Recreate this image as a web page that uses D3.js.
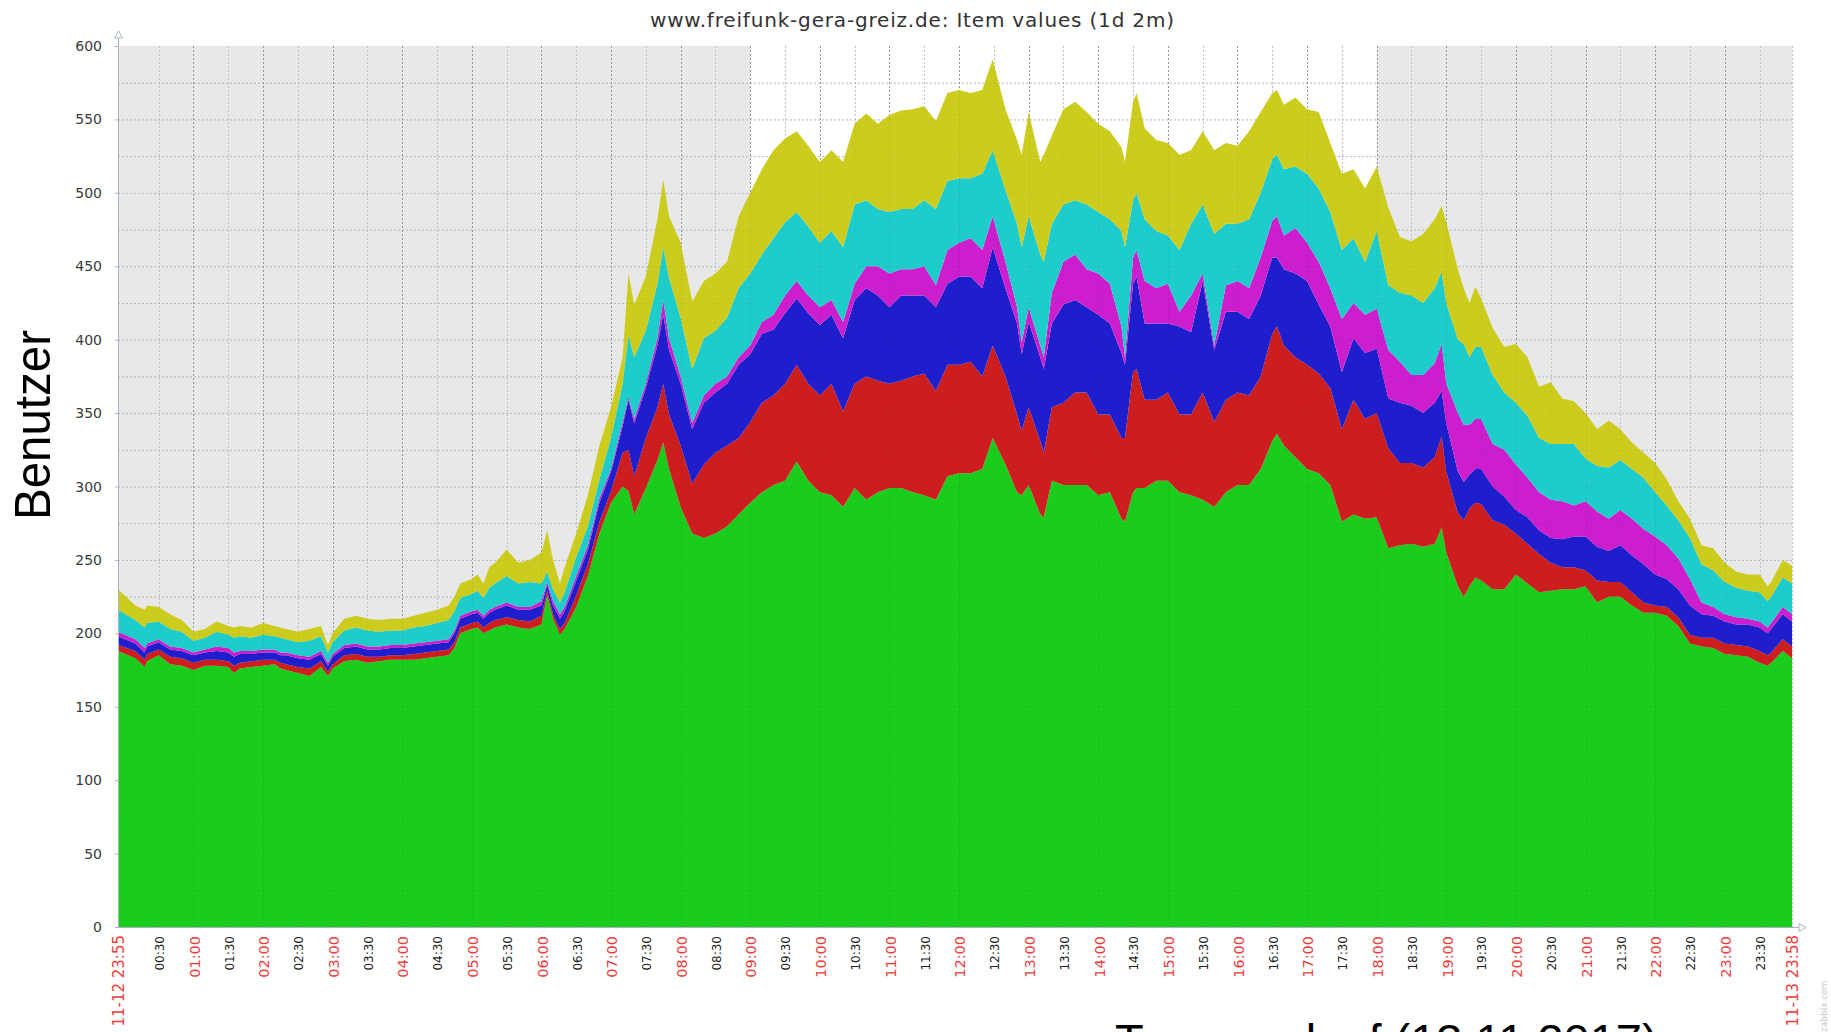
<!DOCTYPE html>
<html><head><meta charset="utf-8">
<script src="https://cdn.jsdelivr.net/npm/d3@7"></script>
<style>body{margin:0;background:#fff;overflow:hidden} svg{display:block}</style>
</head><body>
<svg id="chart" width="1831" height="1032"></svg>
<script>
// ---- data (first time stamp belongs to 2017-11-12, the rest to 2017-11-13) ----
const times = ["23:55","00:10","00:18","00:20","00:30","00:40","00:50","01:00","01:10","01:20","01:30","01:35","01:40","01:50","02:00","02:10","02:15","02:20","02:30","02:40","02:50","02:56","03:00","03:10","03:20","03:30","03:40","03:50","04:00","04:10","04:20","04:30","04:40","04:45","04:50","05:00","05:05","05:10","05:15","05:20","05:30","05:40","05:50","06:00","06:05","06:10","06:16","06:20","06:30","06:40","06:50","07:00","07:10","07:15","07:20","07:30","07:40","07:45","07:50","08:00","08:10","08:20","08:30","08:40","08:50","09:00","09:10","09:20","09:30","09:40","09:50","10:00","10:10","10:20","10:30","10:40","10:50","11:00","11:10","11:20","11:30","11:40","11:50","12:00","12:10","12:20","12:29","12:40","12:50","12:54","13:00","13:10","13:13","13:20","13:30","13:40","13:50","14:00","14:10","14:20","14:23","14:30","14:33","14:40","14:50","15:00","15:10","15:20","15:30","15:40","15:50","16:00","16:10","16:20","16:30","16:34","16:40","16:50","17:00","17:10","17:20","17:30","17:40","17:50","18:00","18:10","18:20","18:30","18:40","18:50","18:56","19:00","19:10","19:15","19:20","19:25","19:30","19:40","19:50","20:00","20:10","20:20","20:30","20:40","20:50","21:00","21:10","21:20","21:30","21:40","21:50","22:00","22:10","22:20","22:30","22:40","22:50","23:00","23:10","23:20","23:30","23:37","23:40","23:50","23:58"];

const seriesGreen = [188,183,177,181,185,179,178,175,178,178,177,173,176,177,178,179,176,175,173,171,177,171,176,181,182,180,181,182,182,182,183,184,185,190,200,203,204,200,202,204,206,204,203,206,226,210,199,203,218,239,268,289,300,297,281,299,318,330,312,286,268,265,268,273,281,289,296,301,304,317,304,296,294,286,299,291,296,299,299,296,294,291,307,309,309,312,333,315,296,294,301,281,279,304,301,301,301,294,296,278,276,296,299,299,304,304,296,294,291,286,296,301,301,312,331,336,328,320,312,309,301,276,281,278,279,258,260,261,259,261,272,255,232,225,232,238,236,230,230,240,234,228,229,230,230,232,221,225,225,219,214,214,212,205,193,191,190,186,185,184,180,178,180,188,183];
const seriesRed = [4,5,5,5,4,5,5,5,4,4,4,5,4,4,4,3,4,4,4,5,4,3,3,4,4,4,3,3,3,4,4,4,4,4,4,4,4,4,5,5,5,5,5,6,3,3,4,4,8,8,8,8,23,28,26,34,36,40,37,42,34,50,55,55,52,55,61,61,66,66,66,66,76,65,71,84,76,71,73,79,83,74,76,74,76,63,63,60,53,44,53,50,44,50,56,63,63,55,53,55,57,82,81,60,55,60,53,55,73,58,63,63,61,63,73,73,68,68,71,68,66,63,78,68,71,68,56,55,54,59,62,55,50,52,53,51,52,47,44,28,27,26,19,15,15,11,15,10,10,9,7,5,6,6,6,6,7,7,7,7,8,7,7,8,8];
const seriesBlue = [6,5,5,5,5,5,5,5,5,6,6,6,6,5,5,5,5,6,6,6,5,4,5,5,5,5,5,5,5,5,5,5,5,6,6,6,6,6,7,7,8,7,8,7,4,6,7,8,10,10,13,13,18,34,36,34,42,47,44,42,37,42,41,42,50,46,47,45,48,45,48,48,47,50,57,60,58,52,58,55,53,57,55,60,58,60,67,60,62,52,58,57,57,57,67,63,58,68,62,58,50,60,63,52,52,47,60,56,76,49,60,55,52,55,52,47,52,57,57,47,42,39,42,45,44,34,41,39,37,37,31,33,28,26,23,23,24,23,19,16,18,16,17,19,21,23,23,21,25,25,26,21,19,19,20,16,15,15,14,15,16,15,16,17,17];
const seriesMagenta = [3,3,3,2,2,2,2,2,2,3,3,3,2,2,2,2,2,2,2,2,2,2,2,2,2,2,2,2,2,2,2,2,2,2,2,2,2,2,2,2,2,2,2,3,2,3,3,3,3,3,3,2,3,2,3,3,5,10,8,5,4,5,6,5,5,6,8,10,12,12,12,12,10,11,11,15,20,23,18,18,20,15,23,23,26,26,21,18,11,8,10,8,8,21,29,31,26,28,27,18,5,18,18,29,24,27,10,25,5,3,18,21,21,26,25,28,23,31,26,29,26,36,24,26,27,33,28,21,26,27,32,27,40,39,34,34,34,29,32,31,27,26,26,26,21,24,24,22,24,25,24,26,23,21,18,8,6,5,5,4,4,4,4,5,5];
const seriesCyan = [15,13,14,14,12,12,11,8,8,10,9,10,10,9,10,9,10,9,9,11,10,7,8,10,11,11,10,10,10,11,11,12,13,13,12,12,13,12,15,16,18,16,17,12,7,8,8,10,13,13,13,21,26,42,42,36,37,36,41,40,37,39,36,40,47,49,46,52,50,47,47,44,47,51,54,45,39,42,41,41,45,52,47,44,41,52,45,49,57,65,62,62,65,47,39,37,44,42,44,65,75,39,39,42,39,33,42,49,47,76,42,39,47,44,42,42,45,42,47,50,52,47,44,36,53,44,47,54,49,51,49,55,50,55,46,49,49,47,39,42,42,37,38,39,42,29,31,35,34,34,35,30,27,26,28,26,25,22,20,19,20,18,18,20,21];
const seriesYellow = [14,10,12,12,10,10,8,6,6,7,6,7,7,7,8,7,7,7,7,8,7,5,6,8,8,8,8,8,8,8,9,9,10,10,10,10,11,10,14,14,18,14,15,21,28,20,13,17,16,21,23,21,18,42,36,37,44,46,42,51,46,39,39,38,49,55,58,60,57,55,55,55,55,58,55,59,58,66,67,68,64,60,60,60,58,57,62,55,57,63,71,63,73,60,65,67,63,60,60,57,58,67,68,62,62,63,65,50,50,57,55,53,60,55,45,44,44,47,44,52,47,52,47,50,44,53,38,37,47,47,45,55,48,38,37,41,33,32,31,40,40,35,42,31,29,31,25,32,21,18,17,20,18,13,13,13,15,13,11,11,12,10,10,12,12];

const seriesKeys = ["green","red","blue","magenta","cyan","yellow"];
const seriesColors = ["#1acc1c","#cc1e1e","#1e1ecc","#cc1ecc","#1ecccc","#cccc1e"];
const yTickValues = [0,50,100,150,200,250,300,350,400,450,500,550,600];
const titleText = "www.freifunk-gera-greiz.de: Item values (1d 2m)";
const yTitle = "Benutzer";
const xTitle = "Tagesverlauf (13.11.2017)";
const startLabel = "11-12 23:55";
const endLabel = "11-13 23:58";

// ---- build table ----
const parseT = (s, i) => {
  const [h, m] = s.split(":").map(Number);
  return new Date(2017, 10, i === 0 ? 12 : 13, h, m);
};
const table = times.map((t, i) => ({
  date: parseT(t, i),
  green: seriesGreen[i], red: seriesRed[i], blue: seriesBlue[i],
  magenta: seriesMagenta[i], cyan: seriesCyan[i], yellow: seriesYellow[i]
}));

const svg = d3.select("#chart");
const L = 118, R = 1792, T = 46, B = 927;
const t0 = new Date(2017, 10, 12, 23, 55), t1 = new Date(2017, 10, 13, 23, 58);
const x = d3.scaleTime().domain([t0, t1]).range([L, R]);
const y = d3.scaleLinear().domain([0, 600]).range([B, T]);

// backgrounds (work hours white)
const w0 = new Date(2017, 10, 13, 9, 0), w1 = new Date(2017, 10, 13, 18, 0);
svg.append("rect").attr("x", L).attr("y", T).attr("width", x(w0) - L).attr("height", B - T).attr("fill", "#e8e8e8");
svg.append("rect").attr("x", x(w1)).attr("y", T).attr("width", R - x(w1)).attr("height", B - T).attr("fill", "#e8e8e8");

// grid
const halfHours = d3.timeMinute.every(30).range(new Date(2017,10,13,0,30), t1);
const gridG = svg.append("g");
function drawGrid(g, under) {
  yTickValues.concat(d3.range(25, 600, 50)).filter(v => v > 0 && v < 600).forEach(v => {
    g.append("line").attr("x1", L).attr("x2", R).attr("y1", y(v) + 0.5).attr("y2", y(v) + 0.5)
      .attr("stroke", under ? "#b9c3cc" : "#000").attr("stroke-opacity", under ? 1 : 0.05)
      .attr("stroke-dasharray", "2,2");
  });
  halfHours.concat([t1]).forEach(d => {
    const hour = d.getMinutes() === 0;
    g.append("line").attr("x1", Math.round(x(d)) + 0.5).attr("x2", Math.round(x(d)) + 0.5).attr("y1", T).attr("y2", B)
      .attr("stroke", under ? (hour ? "#9aa6b2" : "#c0c9d1") : "#000")
      .attr("stroke-opacity", under ? 1 : (hour ? 0.08 : 0.04))
      .attr("stroke-dasharray", "2,2");
  });
}
drawGrid(gridG, true);

// stacked areas
const stack = d3.stack().keys(seriesKeys);
const layers = stack(table);
const area = d3.area().x(d => x(d.data.date)).y0(d => y(d[0])).y1(d => y(d[1])).curve(d3.curveLinear);
svg.append("g").selectAll("path").data(layers).join("path")
  .attr("d", area).attr("fill", (d, i) => seriesColors[i]);

drawGrid(svg.append("g"), false);

// axes
const axisCol = "#a9b4be";
svg.append("line").attr("x1", L + 0.5).attr("x2", L + 0.5).attr("y1", B).attr("y2", 36).attr("stroke", axisCol);
svg.append("path").attr("d", `M${L + 0.5},31 L${L + 4.5},38 L${L - 3.5},38 Z`).attr("fill", "#fff").attr("stroke", axisCol);
svg.append("line").attr("x1", L).attr("x2", 1800).attr("y1", B + 0.5).attr("y2", B + 0.5).attr("stroke", axisCol);
svg.append("path").attr("d", `M1806,${B + 0.5} L1799,${B - 3.5} L1799,${B + 4.5} Z`).attr("fill", "#fff").attr("stroke", axisCol);

// y ticks & labels
yTickValues.forEach(v => {
  svg.append("line").attr("x1", L - 3).attr("x2", L).attr("y1", y(v) + 0.5).attr("y2", y(v) + 0.5).attr("stroke", axisCol);
  svg.append("text").attr("x", 102).attr("y", y(v)).attr("dy", "0.36em")
    .attr("text-anchor", "end").attr("font-family", "DejaVu Sans").attr("font-size", 14)
    .attr("fill", "#3a3a3a").text(v);
});

// x tick labels
const fmt = d3.timeFormat("%H:%M");
halfHours.forEach(d => {
  const hour = d.getMinutes() === 0;
  svg.append("text").attr("transform", `translate(${x(d) + 1},936) rotate(-90)`)
    .attr("dy", "0.36em").attr("text-anchor", "end")
    .attr("font-family", "DejaVu Sans").attr("font-size", hour ? 14.5 : 12)
    .attr("fill", hour ? "#ee3b3b" : "#222").text(fmt(d));
});
[[t0, startLabel], [t1, endLabel]].forEach(([d, s]) => {
  svg.append("text").attr("transform", `translate(${x(d) + 1},935) rotate(-90)`)
    .attr("dy", "0.36em").attr("text-anchor", "end")
    .attr("font-family", "DejaVu Sans").attr("font-size", 15)
    .attr("fill", "#ee3b3b").text(s);
});

// titles
svg.append("text").attr("x", 912).attr("y", 27).attr("text-anchor", "middle")
  .attr("font-family", "DejaVu Sans").attr("font-size", 20).attr("fill", "#333")
  .attr("textLength", 524).attr("lengthAdjust", "spacing").text(titleText);
svg.append("text").attr("transform", "translate(50,425) rotate(-90)").attr("text-anchor", "middle")
  .attr("font-family", "Liberation Sans").attr("font-size", 50).attr("fill", "#000")
  .attr("textLength", 190).attr("lengthAdjust", "spacingAndGlyphs").text(yTitle);
svg.append("text").attr("x", 1115).attr("y", 1057)
  .attr("font-family", "Liberation Sans").attr("font-size", 47).attr("fill", "#000").text(xTitle);
svg.append("text").attr("transform", "translate(1827,1032) rotate(-90)")
  .attr("font-family", "DejaVu Sans").attr("font-size", 9).attr("fill", "#c8c8c8").text("zabbix.com");
</script>
</body></html>
